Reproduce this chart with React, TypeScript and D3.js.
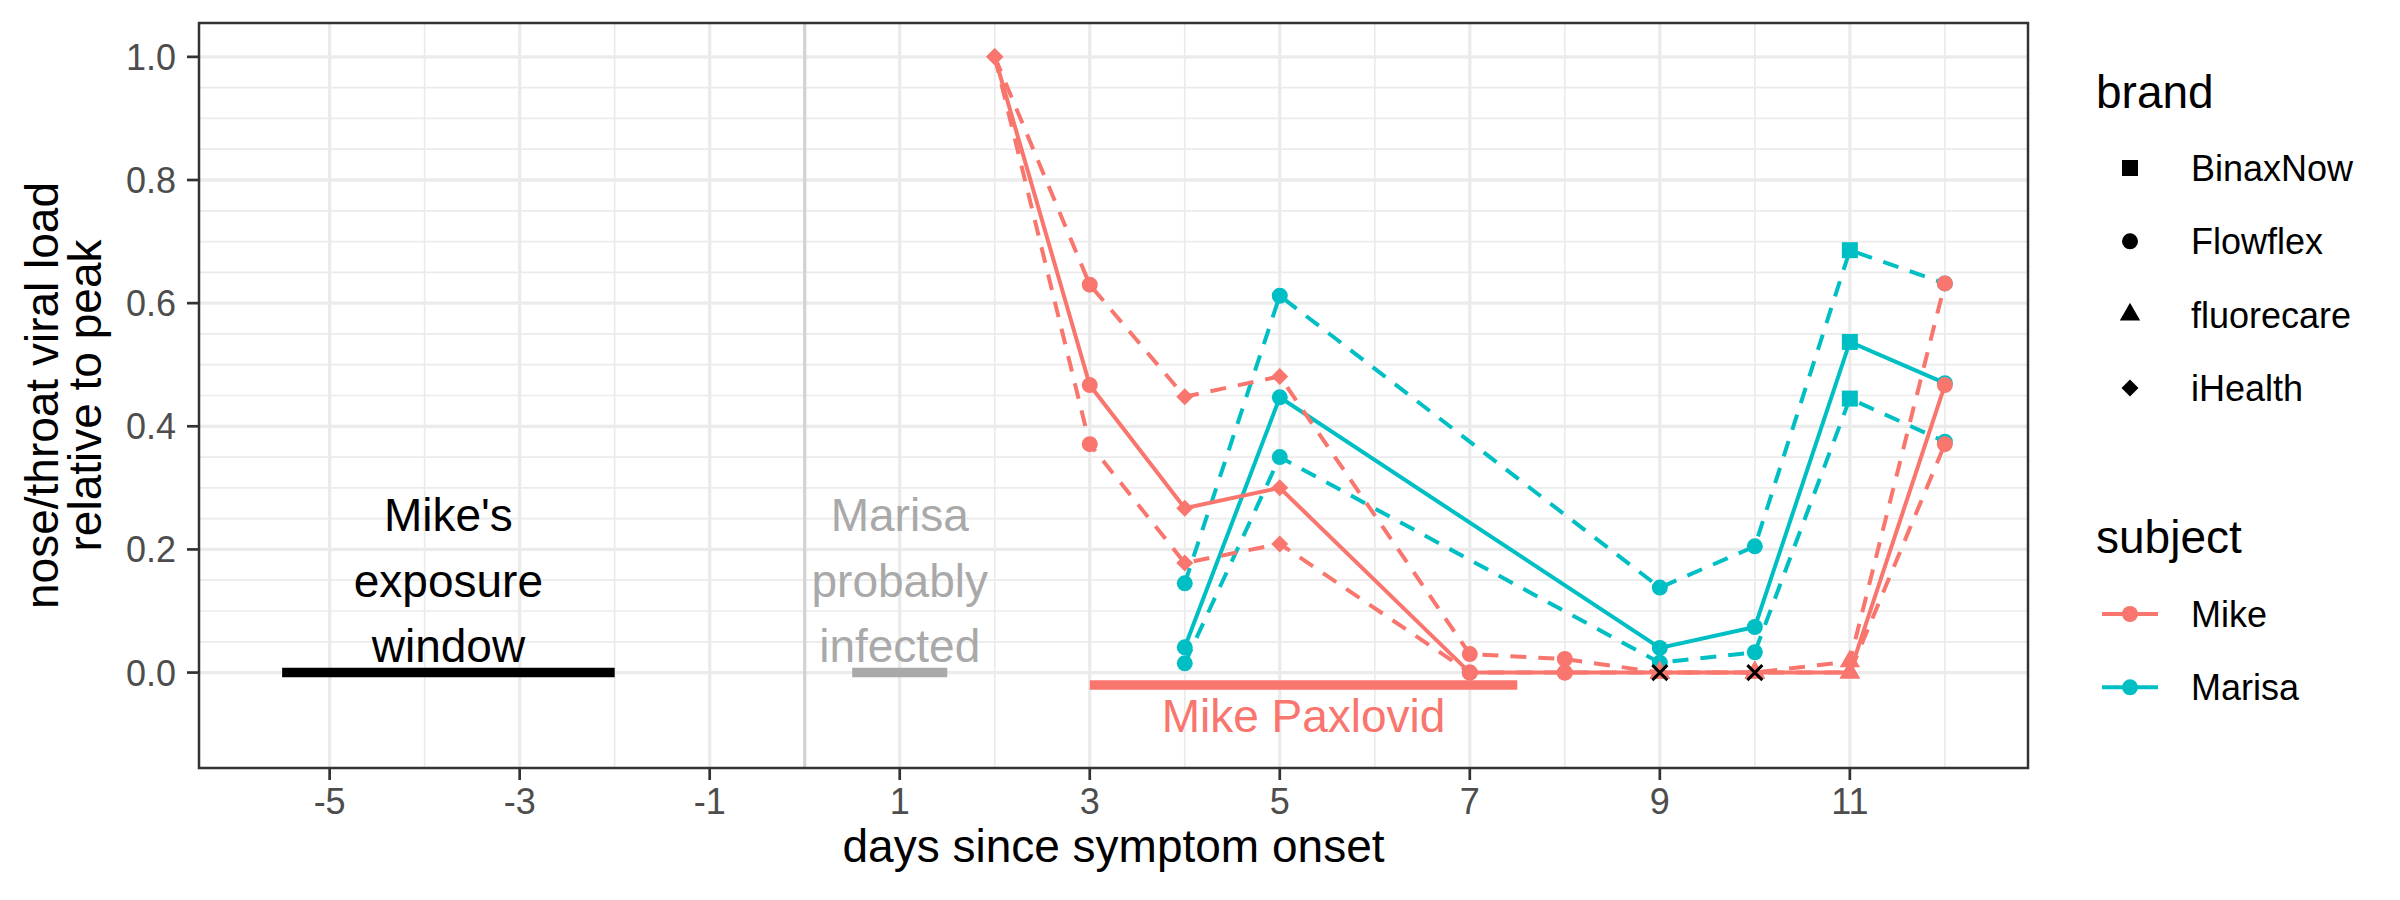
import React, { useEffect, useRef } from "react";
import * as d3 from "d3";

// Viral load relative to peak, by day since symptom onset
const mikeDays = [2, 3, 4, 5, 7, 8, 9, 10, 11, 12];
const mikeBrand = ["iHealth", "Flowflex", "iHealth", "iHealth", "Flowflex", "Flowflex", "fluorecare", "fluorecare", "fluorecare", "Flowflex"];
const mikeEst = [1.0, 0.467, 0.267, 0.3, 0.0, 0.0, 0.0, 0.0, 0.0, 0.467];
const mikeHigh = [1.0, 0.63, 0.448, 0.481, 0.03, 0.022, 0.0, 0.0, 0.018, 0.632];
const mikeLow = [1.0, 0.371, 0.178, 0.209, 0.0, 0.0, 0.0, 0.0, 0.0, 0.371];

const marisaDays = [4, 5, 9, 10, 11, 12];
const marisaBrand = ["Flowflex", "Flowflex", "Flowflex", "Flowflex", "BinaxNow", "Flowflex"];
const marisaEst = [0.041, 0.447, 0.04, 0.074, 0.537, 0.47];
const marisaHigh = [0.145, 0.612, 0.138, 0.205, 0.686, 0.632];
const marisaLow = [0.015, 0.35, 0.016, 0.033, 0.445, 0.375];

// negative tests
const negativeDays = [9, 10];

const brands = ["BinaxNow", "Flowflex", "fluorecare", "iHealth"];
const subjects = ["Mike", "Marisa"];
const subjectColors = ["#F8766D", "#00BFC4"];

const xBreaks = [-5, -3, -1, 1, 3, 5, 7, 9, 11];
const yBreaks = [0, 0.2, 0.4, 0.6, 0.8, 1.0];

const exposureWindow = [-5.5, -2];
const marisaInfected = [0.5, 1.5];
const paxlovidCourse = [3, 7.5];

const FONT = "'Liberation Sans', Arial, Helvetica, sans-serif";

const shapePath = (brand: string) => {
  if (brand === "BinaxNow") return d3.symbol(d3.symbolSquare, 256)();
  if (brand === "Flowflex") return d3.symbol(d3.symbolCircle, Math.PI * 64)();
  if (brand === "fluorecare") return d3.symbol(d3.symbolTriangle, 180)();
  return "M0,-8.5L8.5,0L0,8.5L-8.5,0Z";
};

const App = () => {
  const svgRef = useRef(null);

  useEffect(() => {
    const width = 2400;
    const height = 900;
    const left = 199, right = 2028, top = 23, bottom = 768;

    const svg = d3.select(svgRef.current)
      .attr("width", width)
      .attr("height", height)
      .style("font-family", FONT);
    svg.selectAll("*").remove();

    const x = d3.scaleLinear().domain([-6.375, 12.875]).range([left, right]);
    const y = d3.scaleLinear().domain([-0.155, 1.055]).range([bottom, top]);

    svg.append("rect").attr("width", width).attr("height", height).attr("fill", "white");

    // grid
    const grid = svg.append("g");
    const minorX = d3.range(-4, 13, 2);
    const minorY = d3.range(0, 1.001, 0.05).filter(v => Math.abs(v * 5 - Math.round(v * 5)) > 0.01);
    grid.selectAll(".mx").data(minorX).enter().append("line")
      .attr("x1", d => x(d)).attr("x2", d => x(d)).attr("y1", top).attr("y2", bottom)
      .attr("stroke", "#EBEBEB").attr("stroke-width", 1.7);
    grid.selectAll(".my").data(minorY).enter().append("line")
      .attr("x1", left).attr("x2", right).attr("y1", d => y(d)).attr("y2", d => y(d))
      .attr("stroke", "#EBEBEB").attr("stroke-width", 1.7);
    grid.selectAll(".gx").data(xBreaks).enter().append("line")
      .attr("x1", d => x(d)).attr("x2", d => x(d)).attr("y1", top).attr("y2", bottom)
      .attr("stroke", "#EBEBEB").attr("stroke-width", 3.3);
    grid.selectAll(".gy").data(yBreaks).enter().append("line")
      .attr("x1", left).attr("x2", right).attr("y1", d => y(d)).attr("y2", d => y(d))
      .attr("stroke", "#EBEBEB").attr("stroke-width", 3.3);

    // symptom onset
    svg.append("line")
      .attr("x1", x(0)).attr("x2", x(0)).attr("y1", top).attr("y2", bottom)
      .attr("stroke", "#D3D3D3").attr("stroke-width", 3.3);

    // annotation bars
    const bar = (range: number[], yv: number, color: string) =>
      svg.append("line")
        .attr("x1", x(range[0])).attr("x2", x(range[1]))
        .attr("y1", y(yv)).attr("y2", y(yv))
        .attr("stroke", color).attr("stroke-width", 9.5);
    bar(exposureWindow, 0, "#000000");
    bar(marisaInfected, 0, "#A9A9A9");
    bar(paxlovidCourse, -0.02, "#F8766D");

    const note = (lines: string[], xv: number, yv: number, color: string) => {
      const fs = 46;
      const lh = 65.5;
      const y0 = y(yv) + 0.36 * fs - ((lines.length - 1) / 2) * lh;
      const t = svg.append("text")
        .attr("text-anchor", "middle").attr("font-size", fs).attr("fill", color);
      lines.forEach((l, i) => {
        t.append("tspan").attr("x", x(xv)).attr("y", y0 + i * lh).text(l);
      });
    };
    note(["Mike's", "exposure", "window"], (exposureWindow[0] + exposureWindow[1]) / 2, 0.15, "#000000");
    note(["Marisa", "probably", "infected"], 1, 0.15, "#A9A9A9");
    note(["Mike Paxlovid"], (paxlovidCourse[0] + paxlovidCourse[1]) / 2, -0.07, "#F8766D");

    // series
    const series = [
      { name: "Marisa", color: subjectColors[1], days: marisaDays, brand: marisaBrand, bands: [marisaHigh, marisaLow, marisaEst] },
      { name: "Mike", color: subjectColors[0], days: mikeDays, brand: mikeBrand, bands: [mikeHigh, mikeLow, mikeEst] },
    ];

    const line = d3.line<[number, number]>().x(d => x(d[0])).y(d => y(d[1]));

    series.forEach(s => {
      s.bands.forEach((vals, bi) => {
        const pts = s.days.map((d, i) => [d, vals[i]] as [number, number]);
        svg.append("path")
          .attr("d", line(pts))
          .attr("fill", "none")
          .attr("stroke", s.color)
          .attr("stroke-width", 4)
          .attr("stroke-dasharray", bi < 2 ? "16,12" : null);
      });
    });

    series.forEach(s => {
      s.bands.forEach(vals => {
        svg.append("g").selectAll("path")
          .data(s.days.map((d, i) => ({ d, v: vals[i], b: s.brand[i] })))
          .enter().append("path")
          .attr("d", p => shapePath(p.b))
          .attr("transform", p => `translate(${x(p.d)},${y(p.v)})`)
          .attr("fill", s.color);
      });
    });

    // negative test marks
    svg.append("g").selectAll("path")
      .data(negativeDays)
      .enter().append("path")
      .attr("d", "M-7.5,-7.5L7.5,7.5M-7.5,7.5L7.5,-7.5")
      .attr("transform", d => `translate(${x(d)},${y(0)})`)
      .attr("stroke", "#000000").attr("stroke-width", 3).attr("fill", "none");

    // panel border
    svg.append("rect")
      .attr("x", left).attr("y", top).attr("width", right - left).attr("height", bottom - top)
      .attr("fill", "none").attr("stroke", "#333333").attr("stroke-width", 2.5);

    // axes
    const axisX = svg.append("g");
    xBreaks.forEach(b => {
      axisX.append("line").attr("x1", x(b)).attr("x2", x(b)).attr("y1", bottom).attr("y2", bottom + 12)
        .attr("stroke", "#333333").attr("stroke-width", 2.7);
      axisX.append("text").attr("x", x(b)).attr("y", 814).attr("text-anchor", "middle")
        .attr("font-size", 36).attr("fill", "#4D4D4D").text(String(b));
    });
    const axisY = svg.append("g");
    yBreaks.forEach(b => {
      axisY.append("line").attr("x1", left - 12).attr("x2", left).attr("y1", y(b)).attr("y2", y(b))
        .attr("stroke", "#333333").attr("stroke-width", 2.7);
      axisY.append("text").attr("x", 176).attr("y", y(b)).attr("dy", "0.36em").attr("text-anchor", "end")
        .attr("font-size", 36).attr("fill", "#4D4D4D").text(d3.format(".1f")(b));
    });

    svg.append("text").attr("x", (left + right) / 2).attr("y", 862).attr("text-anchor", "middle")
      .attr("font-size", 46).attr("fill", "#000000").text("days since symptom onset");

    const yTitle = svg.append("text")
      .attr("transform", `translate(0,${(top + bottom) / 2}) rotate(-90)`)
      .attr("text-anchor", "middle").attr("font-size", 46).attr("fill", "#000000");
    yTitle.append("tspan").attr("x", 0).attr("y", 58).text("nose/throat viral load");
    yTitle.append("tspan").attr("x", 0).attr("y", 101).text("relative to peak");

    // legends
    const legend = svg.append("g");
    legend.append("text").attr("x", 2096).attr("y", 108).attr("font-size", 46).text("brand");
    brands.forEach((b, i) => {
      const cy = 168 + i * 73.3;
      legend.append("path").attr("d", shapePath(b)).attr("transform", `translate(2130,${cy})`).attr("fill", "#000000");
      legend.append("text").attr("x", 2191).attr("y", cy).attr("dy", "0.36em").attr("font-size", 36).text(b);
    });
    legend.append("text").attr("x", 2096).attr("y", 553).attr("font-size", 46).text("subject");
    subjects.forEach((s, i) => {
      const cy = 614 + i * 73.3;
      legend.append("line").attr("x1", 2102).attr("x2", 2158).attr("y1", cy).attr("y2", cy)
        .attr("stroke", subjectColors[i]).attr("stroke-width", 4);
      legend.append("path").attr("d", shapePath("Flowflex")).attr("transform", `translate(2130,${cy})`)
        .attr("fill", subjectColors[i]);
      legend.append("text").attr("x", 2191).attr("y", cy).attr("dy", "0.36em").attr("font-size", 36).text(s);
    });
  }, []);

  return (
    <div style={{ position: "absolute", left: 0, top: 0 }}>
      <svg ref={svgRef} style={{ display: "block" }}></svg>
    </div>
  );
};

export default App;
